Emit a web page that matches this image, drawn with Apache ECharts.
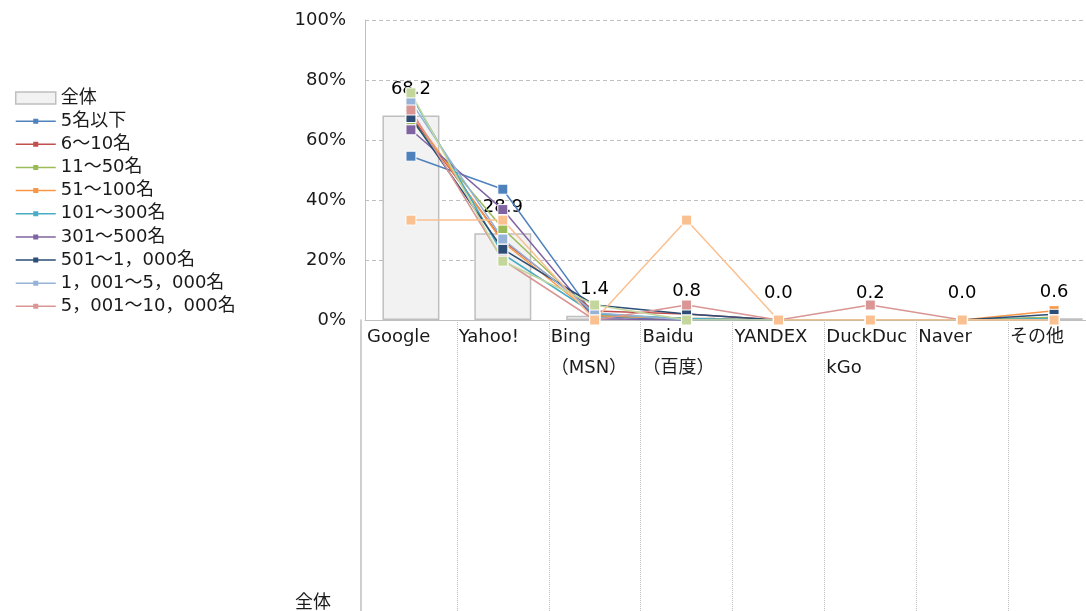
<!DOCTYPE html>
<html>
<head>
<meta charset="utf-8">
<script src="https://cdn.jsdelivr.net/npm/echarts@6/dist/echarts.min.js"></script>
<style>
html,body{margin:0;padding:0;background:#fff;}
#chart{width:1086px;height:611px;}
</style>
</head>
<body>
<div id="chart"></div>
<script>
const categories = ['Google', 'Yahoo!', 'Bing\n（MSN）', 'Baidu\n（百度）', 'YANDEX', 'DuckDuc\nkGo', 'Naver', 'その他'];
const totalName = '全体';
const totalValues = [68.2, 28.9, 1.4, 0.8, 0.0, 0.2, 0.0, 0.6];

const seriesNames = ['5名以下', '6～10名', '11～50名', '51～100名', '101～300名', '301～500名', '501～1，000名', '1，001～5，000名', '5，001～10，000名', '10，001名以上', 'わからない'];
const seriesColors = ['#4F81BD', '#C0504D', '#9BBB59', '#F79646', '#4BACC6', '#8064A2', '#2C4D75', '#95B3D7', '#D99694', '#C3D69B', '#FAC090'];

const s5 = [54.6, 43.6, 1.2, 0, 0, 0, 0, 0.8];
const s6to10 = [68.0, 26.5, 3.0, 2.0, 0, 0, 0, 0.5];
const s11to50 = [66.7, 30.5, 1.5, 0.4, 0, 0, 0, 0.9];
const s51to100 = [69.0, 26.0, 1.5, 0.5, 0, 0, 0, 3.1];
const s101to300 = [75.0, 22.0, 2.0, 0.5, 0, 0, 0, 0.5];
const s301to500 = [63.4, 36.8, 0.4, 0, 0, 0, 0, 0];
const s501to1000 = [67.5, 23.6, 5.0, 2.0, 0, 0, 0, 1.9];
const s1001to5000 = [72.7, 27.0, 2.4, 0, 0, 0, 0, 0];
const s5001to10000 = [70.0, 20.0, 0, 5.0, 0, 5.0, 0, 0];
const s10001 = [75.7, 19.6, 5.0, 0, 0, 0, 0, 0];
const sUnknown = [33.3, 33.3, 0, 33.3, 0, 0, 0, 0];
const lineValues = [s5, s6to10, s11to50, s51to100, s101to300, s301to500, s501to1000, s1001to5000, s5001to10000, s10001, sUnknown];
const legendCount = 9;

const FONT = '"DejaVu Sans", "Noto Sans CJK JP", sans-serif';
const FS = 18;
const TXT = '#1a1a1a';
const GRID = '#bfbfbf';
const linePath = 'path://M0,0h0.1v0.1h-0.1z M39.9,11.9h0.1v0.1h-0.1z M0,5.25h40v1.5h-40z M17.5,3.5h5v5h-5z';

const chart = echarts.init(document.getElementById('chart'));

const lineSeries = lineValues.map((vals, i) => ({
  name: seriesNames[i],
  type: 'line',
  xAxisIndex: 0,
  yAxisIndex: 0,
  data: vals,
  symbol: 'rect',
  symbolSize: 10,
  showAllSymbol: true,
  lineStyle: { color: seriesColors[i], width: 1.5 },
  itemStyle: { color: seriesColors[i], borderColor: '#ffffff', borderWidth: 1 },
  emphasis: { disabled: true },
  z: 3
}));

const legendData = [{
  name: totalName,
  icon: 'rect',
  itemStyle: { color: '#f2f2f2', borderColor: '#bfbfbf', borderWidth: 1.5 }
}].concat(seriesNames.slice(0, legendCount).map((n, i) => ({
  name: n,
  icon: linePath,
  itemStyle: { color: seriesColors[i], borderWidth: 0 }
})));

const option = {
  animation: false,
  textStyle: { fontFamily: FONT, color: TXT },
  title: {
    text: '全体',
    left: 295,
    top: 594,
    padding: 0,
    textStyle: { fontFamily: FONT, fontSize: FS, fontWeight: 'normal', color: TXT }
  },
  legend: {
    orient: 'vertical',
    left: 15,
    top: 89,
    itemWidth: 40,
    itemHeight: 12,
    itemGap: 5.15,
    padding: 0,
    selectedMode: false,
    textStyle: { fontFamily: FONT, fontSize: FS, color: TXT },
    data: legendData
  },
  grid: [
    { left: 365, top: 20, width: 735, bottom: 291, containLabel: false, outerBoundsMode: 'none' },
    { left: 365, top: 320, width: 735, bottom: 0, containLabel: false, outerBoundsMode: 'none' }
  ],
  xAxis: [{
    type: 'category',
    gridIndex: 0,
    data: categories,
    boundaryGap: true,
    axisLine: { show: true, lineStyle: { color: GRID, width: 1 } },
    axisTick: { show: false },
    splitLine: { show: false },
    axisLabel: {
      interval: 0,
      margin: 2,
      align: 'center',
      verticalAlign: 'top',
      formatter: v => v.split('\n').map(s => '{a|' + s + '}').join('\n'),
      rich: {
        a: { width: 88, align: 'left', fontSize: FS, lineHeight: 31, fontFamily: FONT, color: TXT }
      }
    }
  }, {
    type: 'category',
    gridIndex: 1,
    data: categories,
    boundaryGap: true,
    axisLine: { show: false },
    axisTick: { show: false, interval: 0 },
    axisLabel: { show: false, interval: 0 },
    splitLine: { show: true, interval: (i) => i > 0, lineStyle: { type: 'dotted', color: GRID, width: 1 } }
  }],
  yAxis: [{
    type: 'value',
    gridIndex: 0,
    min: 0,
    max: 100,
    interval: 20,
    axisLine: { show: true, lineStyle: { color: GRID, width: 1 } },
    axisTick: { show: false },
    axisLabel: { formatter: '{value}%', fontSize: FS, margin: 19, color: TXT, fontFamily: FONT },
    splitLine: { show: true, lineStyle: { type: [4, 3], color: GRID, width: 1 } }
  }, {
    type: 'value',
    gridIndex: 1,
    offset: 4,
    axisLine: { show: true, lineStyle: { color: GRID, width: 1.5 } },
    axisTick: { show: false },
    axisLabel: { show: false },
    splitLine: { show: false }
  }],
  series: [{
    name: totalName,
    type: 'bar',
    xAxisIndex: 0,
    yAxisIndex: 0,
    data: totalValues,
    barWidth: 57,
    itemStyle: { color: '#f2f2f2', borderColor: '#bfbfbf', borderWidth: 1.5 },
    label: {
      show: true,
      position: 'top',
      distance: 17,
      fontSize: FS,
      color: '#000',
      fontFamily: FONT,
      formatter: p => p.value.toFixed(1)
    },
    emphasis: { disabled: true },
    z: 2
  }].concat(lineSeries)
};
chart.setOption(option);
</script>
</body>
</html>
